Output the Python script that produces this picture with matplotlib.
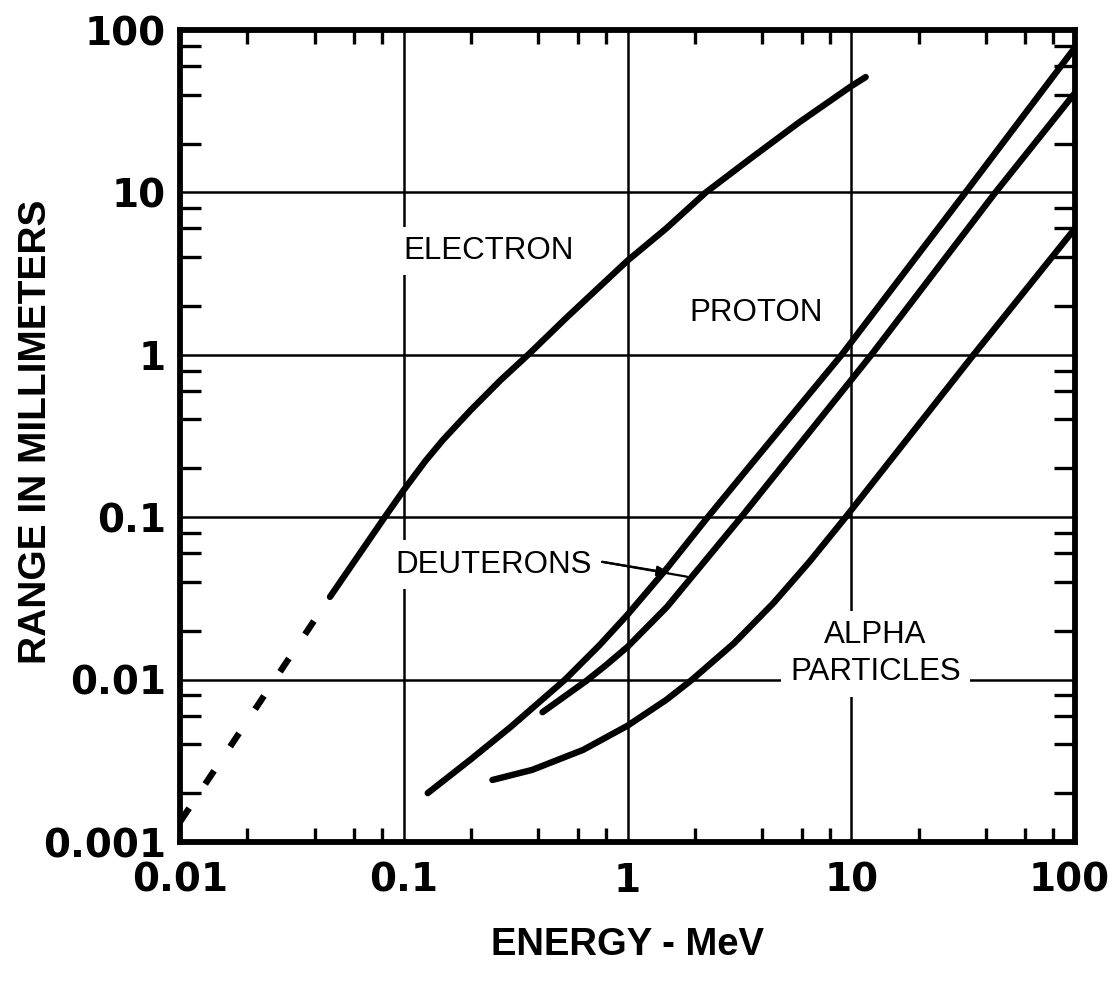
import matplotlib
matplotlib.use("Agg")
import matplotlib.pyplot as plt
import matplotlib.transforms as mtransforms
from matplotlib.font_manager import FontProperties
from matplotlib.ticker import LogLocator, NullFormatter, FixedLocator

# energy in MeV, range in mm
electron_e = [0.0468, 0.0822, 0.1, 0.125, 0.15, 0.2, 0.27, 0.365, 0.533, 1.0,
              1.49, 2.24, 3.49, 5.83, 10.0, 11.6]
electron_r = [0.0323, 0.1, 0.147, 0.222, 0.30, 0.459, 0.695, 1.02, 1.69, 3.8,
              6.0, 10.0, 15.9, 26.9, 45.1, 51.3]
electron_dash_e = [0.0468, 0.01]
electron_dash_r = [0.0323, 0.00133]

proton_e = [0.128, 0.2, 0.3, 0.524, 0.75, 1.0, 1.5, 2.27, 3.4, 9.06, 32.4, 100.0]
proton_r = [0.0020, 0.00324, 0.0051, 0.00995, 0.0163, 0.0251, 0.0484, 0.099,
            0.195, 1.0, 10.0, 78.0]

deuteron_e = [0.417, 0.653, 0.8, 1.0, 1.5, 2.2, 3.22, 6.0, 10.0, 12.3, 44.1, 100.0]
deuteron_r = [0.0063, 0.0098, 0.01225, 0.0159, 0.028, 0.053, 0.1, 0.291, 0.70,
              1.0, 10.0, 41.0]

alpha_e = [0.249, 0.375, 0.633, 1.0, 1.49, 1.945, 3.0, 4.5, 6.5, 9.44, 35.2, 100.0]
alpha_r = [0.00241, 0.00278, 0.00369, 0.0052, 0.0075, 0.01, 0.0168, 0.0297,
           0.0531, 0.1, 1.0, 6.0]

decades_x = [0.01, 0.1, 1, 10, 100]
decades_y = [0.001, 0.01, 0.1, 1, 10, 100]
xlabels = ["0.01", "0.1", "1", "10", "100"]
ylabels = ["0.001", "0.01", "0.1", "1", "10", "100"]

fig = plt.figure(figsize=(11.13, 9.85), dpi=100)
ax = fig.add_axes([180/1113, 143/985, 895/1113, 812/985])
ax.set_xscale("log")
ax.set_yscale("log")
ax.set_xlim(0.01, 100)
ax.set_ylim(0.001, 100)

lw = 4.6
ax.plot(electron_e, electron_r, color="black", lw=lw, solid_capstyle="round")
ax.plot(electron_dash_e, electron_dash_r, color="black", lw=lw,
        linestyle=(2.5, (2.5, 4.54)), dash_capstyle="butt")
ax.plot(proton_e, proton_r, color="black", lw=lw, solid_capstyle="round")
ax.plot(deuteron_e, deuteron_r, color="black", lw=lw, solid_capstyle="round")
ax.plot(alpha_e, alpha_r, color="black", lw=lw, solid_capstyle="round")

# grid at decades
for v in decades_x[1:-1]:
    ax.axvline(v, color="black", lw=1.8, zorder=1)
for v in decades_y[1:-1]:
    ax.axhline(v, color="black", lw=1.8, zorder=1)

ax.xaxis.set_major_locator(FixedLocator(decades_x))
ax.yaxis.set_major_locator(FixedLocator(decades_y))
ax.xaxis.set_minor_locator(LogLocator(base=10, subs=(2, 4, 6, 8)))
ax.yaxis.set_minor_locator(LogLocator(base=10, subs=(2, 4, 6, 8)))
ax.xaxis.set_minor_formatter(NullFormatter())
ax.yaxis.set_minor_formatter(NullFormatter())
ax.set_xticklabels([])
ax.set_yticklabels(ylabels)

tickfont = FontProperties(family="DejaVu Sans", weight="bold", size=28)
for lab in ax.get_yticklabels():
    lab.set_fontproperties(tickfont)

# x tick labels drawn by hand so the last one can sit a bit left, as in the original
xtrans = mtransforms.blended_transform_factory(ax.transData, ax.transAxes)
for v, lab in zip(decades_x, xlabels):
    dx = -6 if v == decades_x[-1] else 0
    t = mtransforms.offset_copy(xtrans, fig=fig, x=dx, y=-19.5, units="dots")
    ax.text(v, 0, lab, transform=t, ha="center", va="top", fontproperties=tickfont,
            clip_on=False)

ax.tick_params(which="major", length=0)
ax.tick_params(axis="y", which="major", pad=10)
ax.tick_params(which="minor", direction="in", width=2.4, top=True, right=True)
ax.tick_params(axis="y", which="minor", length=15)
ax.tick_params(axis="x", which="minor", length=10)

for s in ax.spines.values():
    s.set_linewidth(4.2)

ax.set_xlabel("ENERGY - MeV", family="Liberation Sans", weight="bold", fontsize=27.5)
ax.set_ylabel("RANGE IN MILLIMETERS", family="Liberation Sans", weight="bold",
              fontsize=28)
ax.xaxis.set_label_coords(0.5, -0.105)
ax.yaxis.set_label_coords(-0.141, 0.505)

box = dict(facecolor="white", edgecolor="none", boxstyle="square,pad=0.3")
lblfont = dict(family="Liberation Sans", fontsize=22.5, zorder=3)
ax.text(0.1, 4.35, "ELECTRON", ha="left", va="center", bbox=box, **lblfont)
ax.text(3.75, 1.82, "PROTON", ha="center", va="center", bbox=box, **lblfont)
ax.text(0.092, 0.051, "DEUTERONS", ha="left", va="center", bbox=box, **lblfont)
ax.text(12.85, 0.0144, "ALPHA\nPARTICLES", ha="center", va="center",
        linespacing=1.3, bbox=box, **lblfont)

ax.annotate("", xy=(1.846, 0.043), xytext=(0.771, 0.0531),
            arrowprops=dict(arrowstyle="-", lw=1.6, color="black",
                            shrinkA=0, shrinkB=0))
ax.annotate("", xy=(1.56, 0.0452), xytext=(0.771, 0.0531),
            arrowprops=dict(arrowstyle="-|>,head_length=0.8,head_width=0.3",
                            lw=1.6, color="black", shrinkA=0, shrinkB=0))

fig.savefig("out.png", dpi=100)
